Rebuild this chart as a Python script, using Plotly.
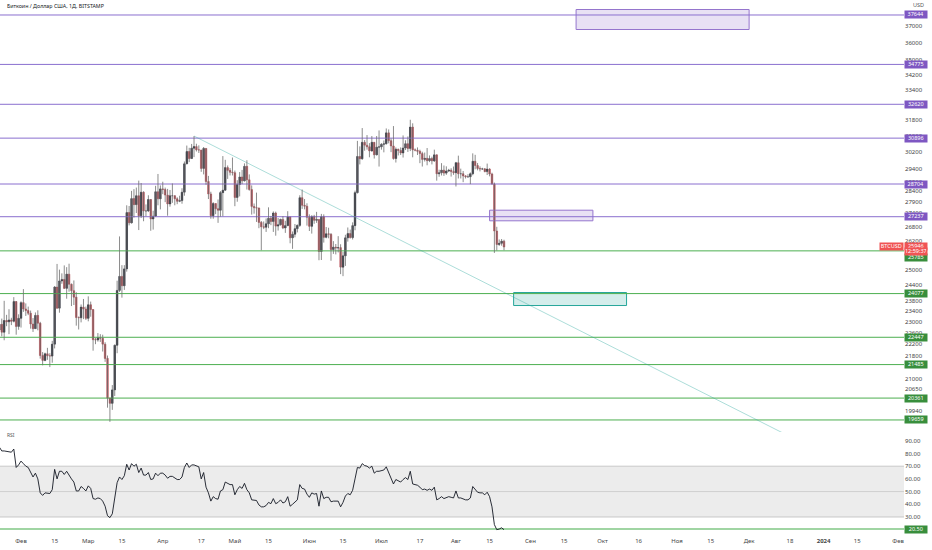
import numpy as np
import pandas as pd
import plotly.graph_objects as go

# ---- Дневные свечи BTCUSD (BITSTAMP), 23.01.2023 – 21.08.2023 ----
dias = pd.date_range("2023-01-23", "2023-08-21", freq="D")

abertura = [
    22710, 22920, 22630, 23060, 23010, 23080, 23030, 23770, 22840,
    23140, 23730, 23490, 23430, 23330, 22930, 22760, 23250, 22960, 21800, 21630, 21860, 21790, 21780,
    22200, 24330, 23520, 24570, 24630, 24280, 24840, 24440, 24190, 23940, 23170, 23160, 23560, 23490,
    23140, 23650, 23470, 22360, 22350, 22430, 22410, 22200, 21700, 20360, 20190, 20630, 22160, 24200,
    24750, 24380, 25050, 27420, 26970, 28040, 27770, 28170, 27280, 28330, 27490, 27490, 28000, 27140,
    27260, 28350, 28030,
    28480, 28450, 28200, 27800, 28170, 28170, 28030, 27920, 27950, 28330, 29650, 30240, 29900, 30400,
    30480, 30320, 30310, 29430, 30390, 28820, 28250, 27280, 27820, 27590, 27520, 28310, 28420, 29470,
    29340, 29250,
    29230, 28090, 28680, 29030, 28850, 29530, 28900, 28450, 27690, 27630, 27620, 26990, 26800, 26780,
    26930, 27170, 27030, 27400, 26830, 26890, 27120, 26750, 26850, 27230, 26330, 26480, 26720, 26860,
    28080, 27740, 27700,
    27210, 26820, 27250, 27080, 27120, 25760, 27240, 26350, 26500, 26480, 25840, 25940, 25900, 25920,
    25120, 25580, 26330, 26510, 26340, 26850, 28310, 30000, 29890, 30690, 30550, 30470, 30270, 30690,
    30080, 30450,
    30470, 30590, 30620, 31160, 30770, 30510, 29900, 30350, 30290, 30170, 30410, 30620, 30390, 31450,
    30320, 30300, 30250, 30140, 29860, 29910, 29800, 29900, 29790, 30080, 29180, 29230, 29350, 29210,
    29310, 29350, 29280,
    29230, 29700, 29180, 29180, 29080, 29040, 29040, 29180, 29770, 29570, 29430, 29400, 29410, 29280,
    29400, 29170, 28700, 26620, 26050, 26100, 26190,
]
maximas = [
    23170, 23130, 23800, 23270, 23480, 23160, 23940, 23790, 23290,
    23780, 24250, 23700, 23580, 23430, 23150, 23360, 23440, 23010, 21920, 21900, 22070, 21880, 22320,
    24370, 25250, 25020, 24870, 25190, 25120, 25260, 24470, 24590, 24130, 23210, 23660, 23870, 23580,
    23970, 23770, 23480, 22420, 22600, 22560, 22540, 22270, 21800, 20370, 20790, 22190, 24580, 26390,
    25200, 25200, 27740, 27710, 28390, 28470, 28540, 28860, 28750, 28370, 27780, 28190, 28020, 27500,
    28620, 29170, 28640,
    28810, 28540, 28480, 28430, 28730, 28190, 28100, 28170, 28510, 29760, 30530, 30420, 30610, 31000,
    30620, 30540, 30320, 30460, 30410, 29080, 28350, 27880, 27820, 28000, 28380, 30020, 29840, 29570,
    29450, 29950,
    29330, 28880, 29260, 29360, 29670, 29820, 29150, 28640, 27820, 28310, 27640, 27050, 27030, 27160,
    27650, 27270, 27470, 27460, 27180, 27150, 27260, 27060, 27480, 27230, 26600, 26920, 26900, 28190,
    28450, 28020, 27830,
    27340, 27300, 27320, 27450, 27130, 27360, 27340, 26790, 26760, 26530, 26190, 26070, 26400, 26060,
    25740, 26460, 26770, 26680, 26990, 28400, 30760, 30490, 31400, 30800, 31050, 30650, 31000, 30700,
    31000, 31280,
    30650, 30780, 31380, 31330, 30880, 31500, 30440, 30380, 30440, 31030, 30790, 30980, 31820, 31640,
    30390, 30440, 30330, 30230, 30190, 30410, 30050, 29990, 30330, 30100, 29370, 29680, 29570, 29530,
    29410, 29440, 29520,
    29740, 30040, 29420, 29310, 29110, 29160, 29240, 30150, 30080, 29690, 29530, 29460, 29450, 29660,
    29440, 29230, 28770, 26800, 26260, 26280, 26250,
]
minimas = [
    22530, 22480, 22340, 22850, 22560, 22890, 22990, 22540, 22720,
    22800, 23380, 23230, 23260, 22760, 22640, 22750, 22700, 21690, 21460, 21600, 21650, 21400, 21550,
    22050, 23500, 23350, 24460, 24260, 23880, 24150, 23600, 23640, 22870, 22730, 22990, 23110, 23080,
    23030, 23200, 21970, 22200, 22290, 22280, 21940, 21580, 20050, 19600, 19980, 20430, 21880, 24140,
    23920, 24220, 24940, 26860, 26940, 27200, 27400, 26660, 27180, 27040, 27260, 27440, 26630, 26680,
    27250, 27740, 27560,
    28240, 27880, 27280, 27680, 27850, 27740, 27790, 27880, 27810, 28170, 29630, 29730, 29880, 29970,
    30240, 30170, 29270, 29150, 28670, 28020, 27150, 27150, 27350, 26970, 27240, 27260, 28400, 28940,
    29100, 29100,
    27700, 27900, 28140, 28700, 28820, 28450, 28400, 27330, 27370, 27010, 26740, 25810, 26700, 26580,
    26740, 26870, 26580, 26420, 26640, 26850, 26700, 26540, 26830, 26100, 25870, 26350, 26560, 26800,
    27580, 27560, 26850,
    26620, 26510, 26930, 26970, 25400, 25410, 26130, 26310, 26310, 25380, 25660, 25640, 25720, 24840,
    24760, 25170, 26170, 26300, 26260, 26650, 28270, 29620, 29840, 30280, 30330, 29960, 30230, 29900,
    30050, 29520,
    30330, 30200, 30580, 30640, 30210, 29850, 29710, 30050, 30070, 29950, 30310, 30220, 30260, 29960,
    30250, 30070, 29680, 29520, 29760, 29580, 29730, 29620, 29740, 28860, 29040, 29100, 29080, 29130,
    29260, 29050, 29130,
    28590, 28960, 28960, 28790, 28960, 28990, 28700, 29110, 29390, 29340, 29290, 29360, 29250, 29120,
    29060, 28680, 25700, 25800, 25990, 26000, 25810,
]
fechamento = [
    22920, 22630, 23060, 23010, 23080, 23030, 23770, 22840, 23140,
    23730, 23490, 23430, 23330, 22930, 22760, 23250, 22960, 21800, 21630, 21860, 21790, 21780, 22200,
    24330, 23520, 24570, 24630, 24280, 24840, 24440, 24190, 23940, 23170, 23160, 23560, 23490, 23140,
    23650, 23470, 22360, 22350, 22430, 22410, 22200, 21700, 20360, 20190, 20630, 22160, 24200, 24750,
    24380, 25050, 27420, 26970, 28040, 27770, 28170, 27280, 28330, 27490, 27490, 28000, 27140, 27260,
    28350, 28030, 28480,
    28450, 28200, 27800, 28170, 28170, 28030, 27920, 27950, 28330, 29650, 30240, 29900, 30400, 30480,
    30320, 30310, 29430, 30390, 28820, 28250, 27280, 27820, 27590, 27520, 28310, 28420, 29470, 29340,
    29250, 29230,
    28090, 28680, 29030, 28850, 29530, 28900, 28450, 27690, 27630, 27620, 26990, 26800, 26780, 26930,
    27170, 27030, 27400, 26830, 26890, 27120, 26750, 26850, 27230, 26330, 26480, 26720, 26860, 28080,
    27740, 27700, 27210,
    26820, 27250, 27080, 27120, 25760, 27240, 26350, 26500, 26480, 25840, 25940, 25900, 25920, 25120,
    25580, 26330, 26510, 26340, 26850, 28310, 30000, 29890, 30690, 30550, 30470, 30270, 30690, 30080,
    30450, 30470,
    30590, 30620, 31160, 30770, 30510, 29900, 30350, 30290, 30170, 30410, 30620, 30390, 31450, 30320,
    30300, 30250, 30140, 29860, 29910, 29800, 29900, 29790, 30080, 29180, 29230, 29350, 29210, 29310,
    29350, 29280, 29230,
    29700, 29180, 29180, 29080, 29040, 29040, 29180, 29770, 29570, 29430, 29400, 29410, 29280, 29400,
    29170, 28700, 26620, 26050, 26100, 26190, 25946,
]

# RSI (14)
rsi = [
    85, 82, 82, 81.5, 81.5, 81, 83.5, 69, 71,
    74, 72, 70, 69, 65, 61.5, 64.5, 60, 49, 47, 49, 48.5, 48.5, 51.5,
    67.5, 60, 66, 66, 63.5, 66, 62.5, 60, 57.5, 50.5, 50.5, 54, 52.5, 50.5,
    54.5, 52.5, 44.5, 44, 45, 44.5, 42.5, 38.5, 31, 29.5, 32.5, 45, 57, 61.5,
    59.5, 62.5, 71.5, 67, 72, 70, 71.5, 65, 68.5, 63, 63, 65, 59.5, 60, 64.5, 62.5, 64.5,
    64.5, 63, 60.5, 62, 62, 60.5, 59.5, 59.5, 61.5, 69, 72.5, 69, 71, 71,
    70, 69.5, 60, 65, 53.5, 49, 42.5, 46, 44.5, 44, 50.5, 51.5, 57.5, 56.5, 55.5, 55.5,
    47.5, 51.5, 54, 52.5, 56.5, 51.5, 49, 43.5, 43, 43, 39.5, 38, 38, 39,
    41.5, 40.5, 44.5, 40.5, 41.5, 43.5, 41, 42, 46, 38.5, 40, 42, 43.5, 55.5, 52.5, 52, 48,
    45.5, 49, 48, 48.5, 38.5, 50.5, 44.5, 45.5, 45.5, 42, 42.5, 42.5, 42.5, 38,
    41.5, 46.5, 48.5, 47.5, 51, 60, 69, 68.5, 72, 70.5, 70, 68.5, 70, 64.5, 66, 66,
    66.5, 67, 69.5, 65, 62, 56, 59.5, 58.5, 57.5, 59.5, 61, 59.5, 66, 56,
    55.5, 55, 53.5, 51.5, 52, 51, 52, 51, 53.5, 43.5, 44.5, 46, 44.5, 45.5, 46, 45.5, 45,
    50.5, 45, 45, 44, 43.5, 43.5, 45, 54, 51.5, 49.5, 49, 49, 47.5, 49.5,
    46, 38, 24, 20, 20.5, 21.5, 20,
]

# горизонтальные уровни
niveis_roxos = [37644, 34775, 32620, 30896, 28704, 27237]
niveis_verdes = [25785, 24077, 22447, 21485, 20361, 19659]
nivel_rsi = 20.5

# зоны (прямоугольники): (начало, конец, низ, верх)
zonas_roxas = [("2023-09-20", "2023-12-01", 36778, 37977),
               ("2023-08-15", "2023-09-27", 27059, 27523)]
zonas_verdes = [("2023-08-25", "2023-10-11", 23620, 24118)]

# трендовая линия
tendencia_x = ["2023-04-14", "2023-12-15 12:00"]
tendencia_y = [31000, 19236]

# шкалы
precos_ticks = [37000, 36000, 35000, 34200, 33400, 32600, 31800, 31000, 30200, 29400,
                28800, 28400, 27900, 27400, 26800, 26200, 25000, 24400, 23800, 23400,
                23000, 22600, 22200, 21800, 21000, 20650, 19940]
rsi_ticks = [90, 80, 70, 60, 50, 40, 30]
datas_ticks = ["2023-02-01", "2023-02-15", "2023-03-01", "2023-03-15", "2023-04-01", "2023-04-17",
               "2023-05-01", "2023-05-15", "2023-06-01", "2023-06-15", "2023-07-01", "2023-07-17",
               "2023-08-01", "2023-08-15", "2023-09-01", "2023-09-15", "2023-10-01", "2023-10-16",
               "2023-11-01", "2023-11-15", "2023-12-01", "2023-12-18", "2024-01-01", "2024-01-15",
               "2024-02-01"]
datas_textos = ["Фев", "15", "Мар", "15", "Апр", "17", "Май", "15", "Июн", "15", "Июл", "17",
                "Авг", "15", "Сен", "15", "Окт", "16", "Ноя", "15", "Дек", "18", "<b>2024</b>",
                "15", "Фев"]

X_INI, X_FIM = "2023-01-23 06:15", "2024-02-03 11:00"
ROXO, VERDE, VERDE_ESC, VERM = "#7e57c2", "#4caf50", "#388e3c", "#f05454"
FONTE = "Noto Sans"

o = np.array(abertura); c = np.array(fechamento)
fig = go.Figure()

# зоны и уровни (под свечами)
for x0, x1, y0, y1 in zonas_roxas:
    fig.add_trace(go.Scatter(x=[x0, x1, x1, x0, x0], y=[y0, y0, y1, y1, y0], mode="lines",
                             fill="toself", fillcolor="rgba(126,87,194,0.18)",
                             line=dict(color="#9575cd", width=1), xaxis="x", yaxis="y"))
for x0, x1, y0, y1 in zonas_verdes:
    fig.add_trace(go.Scatter(x=[x0, x1, x1, x0, x0], y=[y0, y0, y1, y1, y0], mode="lines",
                             fill="toself", fillcolor="rgba(38,166,154,0.2)",
                             line=dict(color="#26a69a", width=1), xaxis="x", yaxis="y"))
for v in niveis_roxos:
    fig.add_trace(go.Scatter(x=[X_INI, X_FIM], y=[v, v], mode="lines",
                             line=dict(color="#8a6fcf", width=1), xaxis="x", yaxis="y"))
for v in niveis_verdes:
    fig.add_trace(go.Scatter(x=[X_INI, X_FIM], y=[v, v], mode="lines",
                             line=dict(color=VERDE, width=1), xaxis="x", yaxis="y"))

fig.add_trace(go.Scatter(x=tendencia_x, y=tendencia_y, mode="lines",
                         line=dict(color="rgba(38,166,154,0.55)", width=0.7), xaxis="x", yaxis="y"))

# фитили
wx, wy = [], []
for d, h, l in zip(dias, maximas, minimas):
    wx += [d, d, None]
    wy += [l, h, None]
fig.add_trace(go.Scatter(x=wx, y=wy, mode="lines", line=dict(color="#6f6f6f", width=0.8),
                         xaxis="x", yaxis="y"))

# тела
cores = ["#131722" if cc >= oo else "#b2434b" for oo, cc in zip(o, c)]
fig.add_trace(go.Bar(x=dias, y=np.abs(c - o), base=np.minimum(o, c), width=0.66 * 86400000,
                     marker=dict(color=cores, line=dict(color=cores, width=0.5)),
                     xaxis="x", yaxis="y"))

# RSI
fig.add_trace(go.Scatter(x=[X_INI, X_FIM], y=[30, 30], mode="lines",
                         line=dict(color="#bdbdbd", width=0.8), xaxis="x2", yaxis="y2"))
fig.add_trace(go.Scatter(x=[X_INI, X_FIM], y=[70, 70], mode="lines", fill="tonexty",
                         fillcolor="#ececec", line=dict(color="#bdbdbd", width=0.8),
                         xaxis="x2", yaxis="y2"))
fig.add_trace(go.Scatter(x=[X_INI, X_FIM], y=[50, 50], mode="lines",
                         line=dict(color="#c8c8c8", width=0.8), xaxis="x2", yaxis="y2"))
fig.add_trace(go.Scatter(x=[X_INI, X_FIM], y=[nivel_rsi, nivel_rsi], mode="lines",
                         line=dict(color="#81c784", width=1.5), xaxis="x2", yaxis="y2"))
fig.add_trace(go.Scatter(x=dias, y=rsi, mode="lines", line=dict(color="#131722", width=0.9),
                         xaxis="x2", yaxis="y2"))

# подписи на шкале
anot = []
def etiqueta(txt, y, cor, yref="y", yshift=0, anchor="left"):
    anot.append(dict(x=1, xref="paper", y=y, yref=yref, text=txt, showarrow=False,
                     xanchor=anchor, yanchor="middle", yshift=yshift, bgcolor=cor,
                     font=dict(family=FONTE, size=5.5, color="white"),
                     width=21 if anchor == "left" else 22, height=6, borderpad=0.3))

for v in niveis_roxos:
    etiqueta(str(v), np.log10(v), ROXO)
for v in niveis_verdes:
    etiqueta(str(v), np.log10(v), VERDE_ESC, yshift=-7 if v == 25785 else 0)
etiqueta(str(fechamento[-1]), np.log10(fechamento[-1]), VERM)
etiqueta("12:59:37", np.log10(fechamento[-1]), VERM, yshift=-5)
etiqueta("BTCUSD", np.log10(fechamento[-1]), VERM, anchor="right")
etiqueta(f"{nivel_rsi:.2f}", nivel_rsi, VERDE_ESC, yref="y2")

anot += [
    dict(x=0.0055, xref="paper", y=0.989, yref="paper", text="Биткоин / Доллар США, 1Д, BITSTAMP",
         showarrow=False, xanchor="left", yanchor="middle",
         font=dict(family=FONTE, size=5.3, color="#131722")),
    dict(x=1.0155, xref="paper", y=0.991, yref="paper", text="USD", showarrow=False,
         xanchor="center", yanchor="middle", font=dict(family=FONTE, size=5.5, color="#555")),
    dict(x=0.0055, xref="paper", y=0.188, yref="paper", text="RSI", showarrow=False,
         xanchor="left", yanchor="middle", font=dict(family=FONTE, size=5, color="#555")),
]

eixo_x = dict(range=[X_INI, X_FIM], showgrid=False, zeroline=False, showline=False, ticks="")
fig.update_layout(
    width=932, height=550,
    margin=dict(l=0, r=28, t=0, b=14),
    paper_bgcolor="white", plot_bgcolor="white",
    showlegend=False, hovermode=False, barmode="overlay",
    font=dict(family=FONTE, color="#444"),
    xaxis=dict(eixo_x, anchor="y", showticklabels=False),
    xaxis2=dict(eixo_x, anchor="y2", tickvals=datas_ticks, ticktext=datas_textos,
                tickfont=dict(size=6, color="#444")),
    yaxis=dict(domain=[0.194, 1], type="log", range=[4.28516, 4.58614], side="right",
               tickvals=precos_ticks, ticktext=[str(v) for v in precos_ticks],
               tickfont=dict(size=6, color="#444"), showgrid=False, zeroline=False, ticks=""),
    yaxis2=dict(domain=[0, 0.1922], range=[15.04, 96.14], side="right",
                tickvals=rsi_ticks, ticktext=[f"{v:.2f}" for v in rsi_ticks],
                tickfont=dict(size=6, color="#444"), showgrid=False, zeroline=False, ticks=""),
    annotations=anot,
)

# убрать отступ страницы, чтобы 932x550 совпадало с окном
fig.write_html("out.html", config={"displayModeBar": False},
               post_script="document.body.style.margin='0';")
